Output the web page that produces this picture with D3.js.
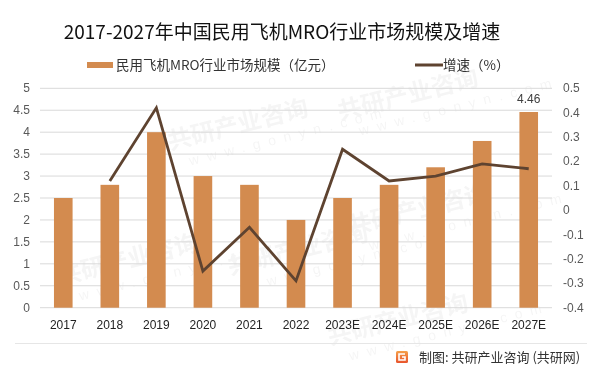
<!DOCTYPE html>
<html lang="zh">
<head>
<meta charset="UTF-8">
<title>MRO</title>
<script src="https://cdnjs.cloudflare.com/ajax/libs/d3/7.8.5/d3.min.js"></script>
<style>
  body { margin: 0; background: #fff; }
  svg { display: block; }
  .cjk { font-family: "Noto Sans CJK SC", sans-serif; }
  .num { font-family: "Liberation Sans", Arial, sans-serif; }
</style>
</head>
<body>
<div id="chart"></div>
<script>
  // data
  const years = ['2017', '2018', '2019', '2020', '2021', '2022', '2023E', '2024E', '2025E', '2026E', '2027E'];
  const scale = [2.5, 2.8, 4.0, 3.0, 2.8, 2.0, 2.5, 2.8, 3.2, 3.8, 4.46];
  const growth = [null, 0.12, 0.42, -0.25, -0.07, -0.29, 0.25, 0.12, 0.14, 0.19, 0.17];
  const leftTicks = [0, 0.5, 1, 1.5, 2, 2.5, 3, 3.5, 4, 4.5, 5];
  const rightTicks = [-0.4, -0.3, -0.2, -0.1, 0, 0.1, 0.2, 0.3, 0.4, 0.5];

  const W = 602, H = 372;
  const plotLeft = 40, plotRight = 552, plotTop = 88.3, plotBottom = 307.7;
  const barColor = '#d38b4f', lineColor = '#5e4330';

  const svg = d3.select('#chart').append('svg')
    .attr('width', W).attr('height', H);

  // faint watermarks
  const wm = svg.append('g').attr('opacity', 0.04);
  const wmPos = [[170, 150], [340, 120], [60, 285], [230, 275], [350, 235], [330, 345]];
  wmPos.forEach(function(p) {
    const g = wm.append('g').attr('transform', 'translate(' + p[0] + ',' + p[1] + ') rotate(-14)');
    g.append('text').attr('class', 'cjk').attr('font-size', 24).attr('font-weight', 'bold')
      .attr('fill', '#000').text('共研产业咨询');
    g.append('text').attr('class', 'num').attr('font-size', 14).attr('y', 20).attr('x', 16)
      .attr('letter-spacing', 8).attr('fill', '#000').text('www.gonyn.com');
  });

  const x = d3.scaleBand().domain(years).range([plotLeft, plotRight])
    .paddingInner(0.6).paddingOuter(0.3);
  const yL = d3.scaleLinear().domain([0, 5]).range([plotBottom, plotTop]);
  const yR = d3.scaleLinear().domain([-0.4, 0.5]).range([plotBottom, plotTop]);

  // gridlines
  svg.append('g').selectAll('line').data(leftTicks).enter().append('line')
    .attr('x1', plotLeft).attr('x2', plotRight)
    .attr('y1', d => yL(d)).attr('y2', d => yL(d))
    .attr('stroke', '#d9d9d9').attr('stroke-width', 1);

  // left axis labels
  svg.append('g').selectAll('text').data(leftTicks).enter().append('text')
    .attr('class', 'num')
    .attr('x', 30).attr('y', d => yL(d) + 4)
    .attr('text-anchor', 'end').attr('font-size', 12).attr('fill', '#595959')
    .text(d => d);

  // right axis labels
  svg.append('g').selectAll('text').data(rightTicks).enter().append('text')
    .attr('class', 'num')
    .attr('x', 563).attr('y', d => yR(d) + 4)
    .attr('font-size', 12).attr('fill', '#595959')
    .text(d => Math.abs(d) < 1e-9 ? '0' : d3.format('.1f')(d).replace('−', '-'));

  // bars
  svg.append('g').selectAll('rect').data(years).enter().append('rect')
    .attr('x', d => x(d))
    .attr('y', (d, i) => yL(scale[i]))
    .attr('width', x.bandwidth())
    .attr('height', (d, i) => yL(0) - yL(scale[i]))
    .attr('fill', barColor);

  // data label on last bar
  const last = years.length - 1;
  svg.append('text').attr('class', 'num')
    .attr('x', x(years[last]) + x.bandwidth() / 2)
    .attr('y', yL(scale[last]) - 9)
    .attr('text-anchor', 'middle').attr('font-size', 12).attr('fill', '#404040')
    .text(scale[last]);

  // growth line
  const line = d3.line()
    .defined(d => d.v !== null)
    .x(d => x(d.k) + x.bandwidth() / 2)
    .y(d => yR(d.v));
  svg.append('path')
    .datum(years.map((k, i) => ({ k: k, v: growth[i] })))
    .attr('d', line)
    .attr('fill', 'none').attr('stroke', lineColor)
    .attr('stroke-width', 2.8).attr('stroke-linejoin', 'miter');

  // x labels
  svg.append('g').selectAll('text').data(years).enter().append('text')
    .attr('class', 'num')
    .attr('x', d => x(d) + x.bandwidth() / 2).attr('y', 329)
    .attr('text-anchor', 'middle').attr('font-size', 12).attr('fill', '#222')
    .text(d => d);

  // title
  svg.append('text').attr('class', 'cjk')
    .attr('x', 282).attr('y', 39)
    .attr('text-anchor', 'middle').attr('font-size', 19).attr('fill', '#111')
    .text('2017-2027年中国民用飞机MRO行业市场规模及增速');

  // legend
  svg.append('rect').attr('x', 87).attr('y', 62).attr('width', 26).attr('height', 6).attr('fill', barColor);
  svg.append('text').attr('class', 'cjk').attr('x', 116).attr('y', 70)
    .attr('font-size', 13.5).attr('fill', '#333').text('民用飞机MRO行业市场规模（亿元）');
  svg.append('line').attr('x1', 415).attr('x2', 443).attr('y1', 65).attr('y2', 65)
    .attr('stroke', lineColor).attr('stroke-width', 3);
  svg.append('text').attr('class', 'cjk').attr('x', 443).attr('y', 70)
    .attr('font-size', 13.5).attr('fill', '#333').text('增速（%）');

  // footer separator
  svg.append('line').attr('x1', 15).attr('x2', 587).attr('y1', 343.5).attr('y2', 343.5)
    .attr('stroke', '#e6e6e6').attr('stroke-width', 1);

  // footer logo
  const grad = svg.append('defs').append('linearGradient').attr('id', 'lg')
    .attr('x1', 0).attr('y1', 0).attr('x2', 0).attr('y2', 1);
  grad.append('stop').attr('offset', 0).attr('stop-color', '#f5a04a');
  grad.append('stop').attr('offset', 1).attr('stop-color', '#e8542d');
  svg.append('rect').attr('x', 396).attr('y', 351).attr('width', 12).attr('height', 12)
    .attr('rx', 1.5).attr('fill', 'url(#lg)');
  svg.append('path').attr('d', 'M405 354 H399 V360 H405 V357 H402')
    .attr('fill', 'none').attr('stroke', '#fff').attr('stroke-width', 1.6);

  svg.append('text').attr('class', 'cjk').attr('x', 419).attr('y', 361.5)
    .attr('font-size', 13).attr('fill', '#333')
    .text('制图: 共研产业咨询 (共研网)');
</script>
</body>
</html>
